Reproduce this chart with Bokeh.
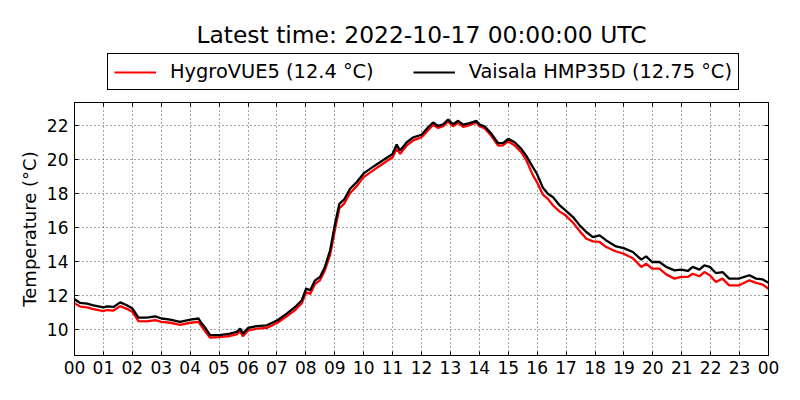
from bokeh.plotting import figure
from bokeh.layouts import column
from bokeh.models import (FixedTicker, LinearAxis, Legend, LegendItem, Range1d, Label)
from bokeh.embed import file_html
from bokeh.resources import INLINE

hours = [0.00, 0.20, 0.43, 0.66, 1.00, 1.12, 1.35, 1.58, 1.81, 2.00, 2.21, 2.50, 2.79,
         3.01, 3.31, 3.65, 4.01, 4.29, 4.40, 4.52, 4.69, 5.01, 5.38, 5.61, 5.73, 5.82,
         6.01, 6.30, 6.65, 7.02, 7.34, 7.63, 7.86, 8.01, 8.15, 8.32, 8.49, 8.66, 8.84,
         9.01, 9.16, 9.32, 9.53, 9.76, 10.00, 10.22, 10.56, 11.00, 11.14, 11.26, 11.49,
         11.72, 12.00, 12.23, 12.40, 12.58, 12.75, 12.92, 13.09, 13.27, 13.44, 13.67,
         13.90, 13.99, 14.19, 14.42, 14.65, 14.82, 15.00, 15.22, 15.45, 15.62, 15.85,
         15.99, 16.20, 16.37, 16.55, 16.78, 16.98, 17.24, 17.47, 17.70, 17.93, 18.16,
         18.39, 18.73, 18.99, 19.31, 19.60, 19.77, 19.97, 20.23, 20.46, 20.75, 20.98,
         21.21, 21.38, 21.61, 21.78, 21.97, 22.18, 22.41, 22.64, 22.97, 23.34, 23.57,
         23.80, 24.00]

vaisala = [11.78, 11.57, 11.53, 11.43, 11.30, 11.37, 11.33, 11.60, 11.43, 11.24, 10.70,
           10.70, 10.78, 10.65, 10.59, 10.45, 10.59, 10.65, 10.35, 10.10, 9.67, 9.67,
           9.76, 9.86, 10.06, 9.76, 10.10, 10.20, 10.25, 10.55, 10.94, 11.33, 11.73,
           12.41, 12.31, 12.90, 13.10, 13.69, 14.67, 16.24, 17.41, 17.65, 18.30, 18.69,
           19.20, 19.47, 19.86, 20.35, 20.90, 20.55, 21.04, 21.33, 21.48, 21.92, 22.20,
           22.00, 22.10, 22.37, 22.10, 22.30, 22.08, 22.16, 22.30, 22.10, 21.96, 21.53,
           20.98, 20.98, 21.24, 21.04, 20.65, 20.25, 19.57, 19.18, 18.35, 18.00, 17.80,
           17.31, 17.02, 16.63, 16.14, 15.75, 15.45, 15.55, 15.25, 14.90, 14.80, 14.57,
           14.12, 14.31, 13.98, 13.98, 13.69, 13.49, 13.53, 13.45, 13.69, 13.53, 13.78,
           13.69, 13.33, 13.39, 13.00, 13.00, 13.20, 13.00, 12.95, 12.75]

hygrovue = [11.55, 11.35, 11.30, 11.20, 11.08, 11.15, 11.12, 11.38, 11.22, 11.05, 10.50,
            10.48, 10.55, 10.45, 10.40, 10.28, 10.40, 10.45, 10.18, 9.90, 9.52, 9.55,
            9.62, 9.72, 9.90, 9.60, 9.95, 10.05, 10.10, 10.40, 10.78, 11.15, 11.55,
            12.20, 12.10, 12.70, 12.90, 13.50, 14.40, 15.90, 17.15, 17.40, 18.05, 18.45,
            18.98, 19.25, 19.65, 20.15, 20.65, 20.35, 20.85, 21.15, 21.33, 21.75, 22.05,
            21.88, 21.98, 22.25, 21.98, 22.18, 21.95, 22.05, 22.20, 22.00, 21.85, 21.40,
            20.84, 20.85, 21.10, 20.85, 20.45, 20.00, 19.10, 18.69, 17.95, 17.70, 17.31,
            16.95, 16.73, 16.30, 15.80, 15.35, 15.20, 15.16, 14.86, 14.60, 14.47, 14.20,
            13.69, 13.88, 13.59, 13.59, 13.25, 13.00, 13.10, 13.10, 13.29, 13.14, 13.39,
            13.20, 12.80, 13.00, 12.60, 12.60, 12.90, 12.75, 12.65, 12.40]

x_ticks = list(range(0, 25))
x_tick_labels = ["%02d" % (h % 24) for h in x_ticks]
y_ticks = [10, 12, 14, 16, 18, 20, 22]

title_text = "Latest time: 2022-10-17 00:00:00 UTC"
label_hygro = "HygroVUE5 (12.4 °C)"
label_vaisala = "Vaisala HMP35D (12.75 °C)"
y_label = "Temperature (°C)"

FONT = "DejaVu Sans"
TICK_FS = "17px"
LABEL_FS = "18px"
LEGEND_FS = "19.4px"
TITLE_FS = "23.4px"

W = 784
TOP_H = 96
MAIN_H = 288
FRAME_LEFT = 74

# ---- header figure: title + legend (its frame is aligned with the main frame) ----
head = figure(width=W, height=TOP_H, output_backend="svg", toolbar_location=None,
              x_range=Range1d(0, 24), y_range=Range1d(100, 101),
              x_axis_location=None, y_axis_location=None,
              min_border_left=0, min_border_right=0, min_border_top=0,
              min_border_bottom=0)
head.outline_line_color = None
head.xgrid.visible = False
head.ygrid.visible = False
h1 = head.line(hours, hygrovue, line_color="red", line_width=2.2)
h2 = head.line(hours, vaisala, line_color="black", line_width=2.2)

head.add_layout(Label(x=421 - FRAME_LEFT, y=TOP_H - 34, x_units="screen", y_units="screen",
                      text=title_text, text_font=FONT, text_font_size=TITLE_FS,
                      text_color="black", text_align="center",
                      text_baseline="middle"))

legend = Legend(items=[LegendItem(label=label_hygro, renderers=[h1]),
                       LegendItem(label=label_vaisala, renderers=[h2])],
                orientation="horizontal", location=(107 - FRAME_LEFT, TOP_H - 90),
                label_text_font=FONT, label_text_font_size=LEGEND_FS,
                label_text_color="black",
                glyph_width=42, glyph_height=22, label_standoff=14,
                spacing=39, padding=6, margin=0,
                border_line_color="black", border_line_width=1,
                border_line_alpha=1.0, background_fill_alpha=1.0)
head.add_layout(legend, "center")

# ---- main figure ----
p = figure(width=W, height=MAIN_H, output_backend="svg", toolbar_location=None,
           x_range=Range1d(0, 24), y_range=Range1d(8.47, 23.38),
           min_border_left=FRAME_LEFT, min_border_right=16, min_border_top=6,
           min_border_bottom=29)

p.line(hours, hygrovue, line_color="red", line_width=2.3)
p.line(hours, vaisala, line_color="black", line_width=2.3)

p.outline_line_color = "black"
p.outline_line_width = 1

for ax in p.xaxis:
    ax.ticker = FixedTicker(ticks=x_ticks)
    ax.major_label_overrides = {t: l for t, l in zip(x_ticks, x_tick_labels)}
    ax.major_label_standoff = 5
for ax in p.yaxis:
    ax.ticker = FixedTicker(ticks=y_ticks)
    ax.axis_label = y_label
    ax.axis_label_standoff = 4
    ax.axis_label_text_font = FONT
    ax.axis_label_text_font_size = LABEL_FS
    ax.axis_label_text_font_style = "normal"
    ax.axis_label_text_color = "black"
    ax.major_label_standoff = 6

for ax in list(p.xaxis) + list(p.yaxis):
    ax.major_label_text_font = FONT
    ax.major_label_text_font_size = TICK_FS
    ax.major_label_text_color = "black"
    ax.major_tick_in = 4
    ax.major_tick_out = 0
    ax.minor_tick_in = 0
    ax.minor_tick_out = 0
    ax.major_tick_line_color = "black"
    ax.axis_line_color = "black"

top_ax = LinearAxis(ticker=FixedTicker(ticks=x_ticks),
                    major_label_overrides={t: "" for t in x_ticks},
                    major_tick_in=4, major_tick_out=0, minor_tick_in=0, minor_tick_out=0,
                    major_label_standoff=0,
                    axis_line_color="black", major_tick_line_color="black")
right_ax = LinearAxis(ticker=FixedTicker(ticks=y_ticks),
                      major_label_overrides={t: "" for t in y_ticks},
                      major_tick_in=4, major_tick_out=0, minor_tick_in=0, minor_tick_out=0,
                      major_label_standoff=0,
                      axis_line_color="black", major_tick_line_color="black")
p.add_layout(top_ax, "above")
p.add_layout(right_ax, "right")

for g in p.grid:
    g.grid_line_color = "black"
    g.grid_line_width = 0.7
    g.grid_line_dash = "1 3"
p.xgrid.ticker = FixedTicker(ticks=x_ticks)
p.ygrid.ticker = FixedTicker(ticks=y_ticks)

layout = column(head, p, spacing=0)
open("out.html", "w").write(file_html(layout, INLINE))
